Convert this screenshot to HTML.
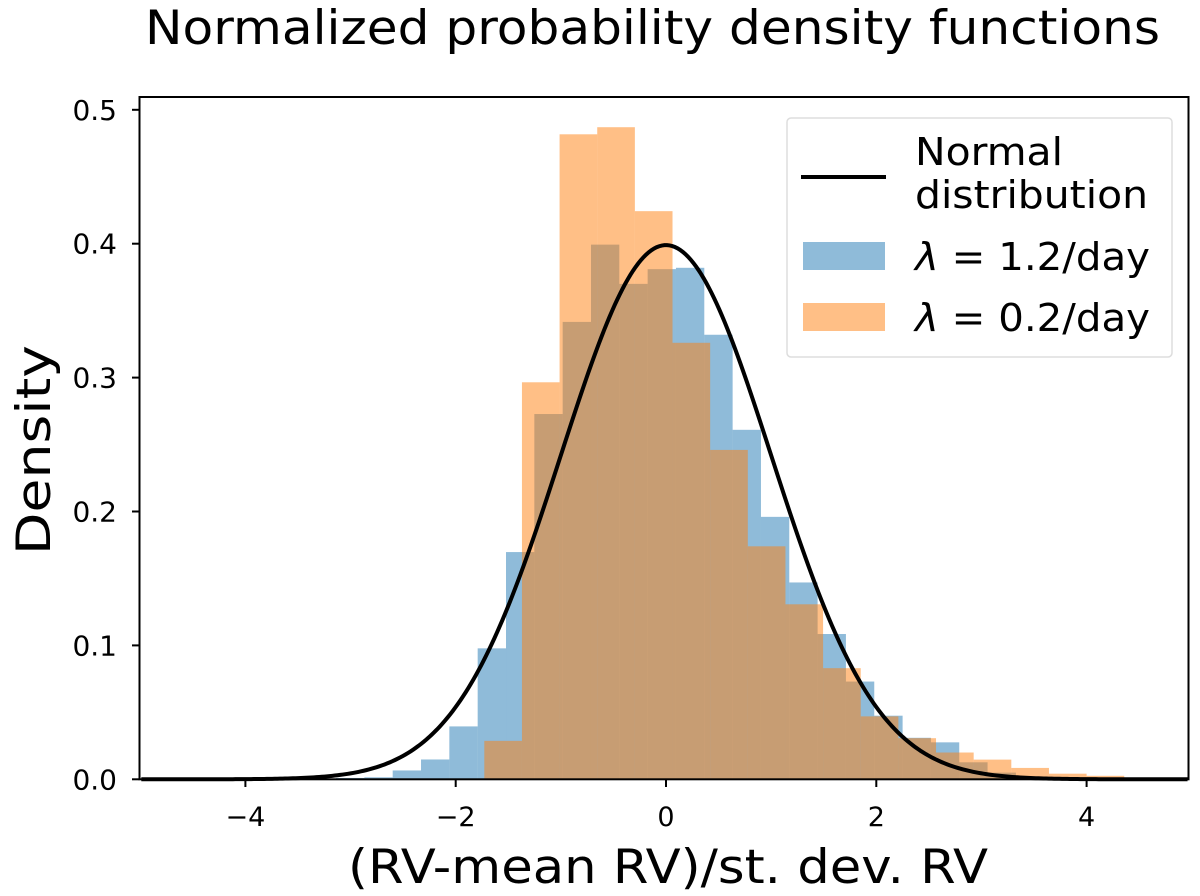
<!DOCTYPE html>
<html><head><meta charset="utf-8"><style>
html,body{margin:0;padding:0;background:#fff;}
svg{display:block;font-family:"DejaVu Sans","Liberation Sans",sans-serif;}
</style></head><body>
<svg id="chart" width="1200" height="896" viewBox="0 0 1200 896" xmlns="http://www.w3.org/2000/svg">
<text x="145" y="44" font-size="47" textLength="1015" lengthAdjust="spacingAndGlyphs">Normalized probability density functions</text>
<g id="bars-blue"></g>
<g id="bars-orange"></g>
<path id="normal-curve" fill="none" stroke="#000" stroke-width="4"/>
<rect x="139.5" y="97" width="1049" height="682.3" fill="none" stroke="#000" stroke-width="2"/>
<g id="xticks"></g>
<g id="yticks"></g>
<text x="348" y="883" font-size="47" textLength="640" lengthAdjust="spacingAndGlyphs">(RV-mean RV)/st. dev. RV</text>
<text transform="translate(50,555) rotate(-90)" font-size="47" textLength="210" lengthAdjust="spacingAndGlyphs">Density</text>
<g>
<rect x="787" y="118" width="385" height="239" rx="4" fill="#fff" fill-opacity="0.8" stroke="#ddd" stroke-width="1.5"/>
<line x1="801" y1="177" x2="886" y2="177" stroke="#000" stroke-width="4"/>
<text x="915" y="165" font-size="38" textLength="148" lengthAdjust="spacingAndGlyphs">Normal</text>
<text x="915" y="208" font-size="38" textLength="233" lengthAdjust="spacingAndGlyphs">distribution</text>
<rect x="803" y="242" width="82" height="28" fill="#1f77b4" fill-opacity="0.5"/>
<text x="915" y="270" font-size="38" textLength="235" lengthAdjust="spacingAndGlyphs"><tspan font-style="italic">λ</tspan> = 1.2/day</text>
<rect x="803" y="303" width="82" height="28" fill="#ff7f0e" fill-opacity="0.5"/>
<text x="915" y="331" font-size="38" textLength="235" lengthAdjust="spacingAndGlyphs"><tspan font-style="italic">λ</tspan> = 0.2/day</text>
</g>
</svg>
<script>
const blueStart = -3.138;
const blueWidth = 0.2694;
const blueValues = [0.001,0.0015,0.0066,0.0148,0.0395,0.0978,0.1697,0.2728,0.3416,0.3993,0.370,0.381,0.382,0.332,0.261,0.196,0.147,0.1085,0.073,0.0475,0.031,0.0276,0.0127,0.005];
const orangeStart = -1.728;
const orangeWidth = 0.358;
const orangeValues = [0.0287,0.2965,0.4817,0.487,0.4243,0.326,0.246,0.174,0.1307,0.083,0.047,0.0307,0.020,0.0147,0.0085,0.0042,0.0026];
const xTicks = [-4,-2,0,2,4];
const xTickLabels = ["\u22124","\u22122","0","2","4"];
const yTicks = [0,0.1,0.2,0.3,0.4,0.5];
const yTickLabels = ["0.0","0.1","0.2","0.3","0.4","0.5"];

const NS = "http://www.w3.org/2000/svg";
function X(v){ return 666 + v*105.15; }
function Y(v){ return 779.3 - v*1339; }
function mk(tag, attrs){ const e=document.createElementNS(NS,tag); for(const k in attrs) e.setAttribute(k,attrs[k]); return e; }

function drawBars(gid, start, w, vals, color, nm){
  const g=document.getElementById(gid);
  vals.forEach((v,i)=>{
    const x0=X(start+i*w), x1=X(start+(i+1)*w);
    const r=mk('rect',{x:x0,y:Y(v),width:x1-x0,height:Y(0)-Y(v),fill:color,'fill-opacity':0.5});
    
    
    g.appendChild(r);
  });
}
drawBars('bars-blue', blueStart, blueWidth, blueValues, '#1f77b4', 'bar-lambda-1-2');
drawBars('bars-orange', orangeStart, orangeWidth, orangeValues, '#ff7f0e', 'bar-lambda-0-2');

let d='';
for(let i=0;i<=400;i++){
  const v=-4.99+i*(9.95/400);
  const p=Math.exp(-v*v/2)/Math.sqrt(2*Math.PI);
  d+=(i?'L':'M')+X(v).toFixed(2)+' '+Y(p).toFixed(2);
}
document.getElementById('normal-curve').setAttribute('d',d);

const xg=document.getElementById('xticks');
xTicks.forEach((t,i)=>{
  const l=mk('line',{x1:X(t),x2:X(t),y1:779.3,y2:787,stroke:'#000','stroke-width':2});
  
  
  xg.appendChild(l);
  const tx=mk('text',{x:X(t),y:826,'font-size':27,'text-anchor':'middle'});
  
  
  tx.textContent=xTickLabels[i];
  xg.appendChild(tx);
});
const yg=document.getElementById('yticks');
yTicks.forEach((t,i)=>{
  const l=mk('line',{x1:132,x2:139.5,y1:Y(t),y2:Y(t),stroke:'#000','stroke-width':2});
  
  
  yg.appendChild(l);
  const tx=mk('text',{x:117,y:Y(t)+10,'font-size':28,'text-anchor':'end'});
  
  
  tx.textContent=yTickLabels[i];
  yg.appendChild(tx);
});
</script>
</body></html>
